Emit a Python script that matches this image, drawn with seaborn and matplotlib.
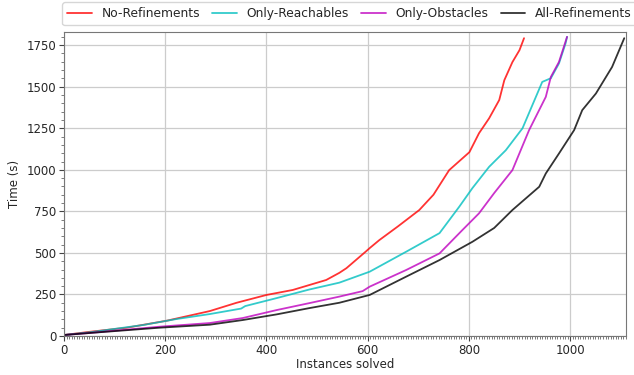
import matplotlib
matplotlib.use("Agg")
import matplotlib.pyplot as plt
from matplotlib.ticker import MultipleLocator
import pandas as pd
import seaborn as sns

sns.set_theme(style="whitegrid")

# Cactus-plot data (instances solved vs cumulative time)
no_ref_x = [0, 50, 124, 203, 288, 341, 400, 452, 518, 544, 558, 597, 604, 623,
            660, 702, 730, 761, 801, 820, 840, 860, 870, 886, 900, 909]
no_ref_y = [6, 25, 50, 92, 150, 200, 247, 277, 337, 380, 408, 510, 529, 577,
            660, 758, 850, 998, 1106, 1220, 1310, 1420, 1539, 1648, 1720, 1792]

reach_x = [0, 50, 156, 222, 288, 350, 358, 420, 485, 544, 604, 676, 742, 781,
           807, 840, 873, 906, 945, 962, 978, 991, 994]
reach_y = [6, 22, 66, 102, 132, 165, 180, 228, 280, 321, 387, 507, 619, 778,
           890, 1018, 1118, 1250, 1529, 1551, 1640, 1760, 1800]

obst_x = [0, 50, 189, 288, 353, 420, 485, 544, 590, 604, 676, 742, 787, 820,
          850, 886, 919, 952, 962, 978, 994]
obst_y = [6, 18, 56, 78, 108, 156, 198, 237, 270, 297, 397, 497, 637, 738,
          860, 998, 1239, 1439, 1559, 1649, 1800]

all_ref_x = [0, 50, 189, 288, 353, 420, 485, 544, 604, 676, 742, 807, 850, 886,
             939, 952, 978, 1008, 1024, 1051, 1083, 1107]
all_ref_y = [6, 18, 50, 68, 96, 130, 168, 200, 247, 357, 457, 567, 650, 758,
             898, 978, 1098, 1239, 1359, 1459, 1619, 1792]

labels = ["No-Refinements", "Only-Reachables", "Only-Obstacles", "All-Refinements"]
colors = ["#ff0000", "#00bfbf", "#bf00bf", "#000000"]

frames = []
for name, xs, ys in zip(labels,
                        [no_ref_x, reach_x, obst_x, all_ref_x],
                        [no_ref_y, reach_y, obst_y, all_ref_y]):
    frames.append(pd.DataFrame({"Instances solved": xs, "Time (s)": ys, "config": name}))
df = pd.concat(frames, ignore_index=True)

fig = plt.figure(figsize=(6.34, 3.75), dpi=100)
ax = fig.add_axes([0.101, 0.104, 0.886, 0.811])

sns.lineplot(data=df, x="Instances solved", y="Time (s)", hue="config",
             hue_order=labels, palette=dict(zip(labels, colors)),
             sort=False, estimator=None, alpha=0.8, linewidth=1.3, ax=ax)

ax.set_xlim(0, 1110)
ax.set_ylim(0, 1830)
ax.xaxis.set_major_locator(MultipleLocator(200))
ax.yaxis.set_major_locator(MultipleLocator(250))
ax.xaxis.set_minor_locator(MultipleLocator(5))
ax.yaxis.set_minor_locator(MultipleLocator(50))
ax.tick_params(which="major", direction="out", length=3.5, width=0.8,
               color="#444444", labelsize=8.5, pad=2, bottom=True, left=True)
ax.tick_params(which="minor", direction="out", length=2, width=0.6,
               color="#666666", bottom=True, left=True)
ax.grid(True, which="major", color="#cccccc", linewidth=0.9)
ax.grid(False, which="minor")
for s in ax.spines.values():
    s.set_color("#777777")
    s.set_linewidth(0.8)
ax.set_xlabel("Instances solved", fontsize=8.5, labelpad=1)
ax.set_ylabel("Time (s)", fontsize=8.5, labelpad=4)

ax.legend(loc="lower center", bbox_to_anchor=(0.508, 1.01), ncol=4,
          frameon=True, fontsize=8.8, handlelength=2.0, columnspacing=1.0,
          borderaxespad=0.3)

fig.savefig("out.png", dpi=100)
plt.close(fig)
